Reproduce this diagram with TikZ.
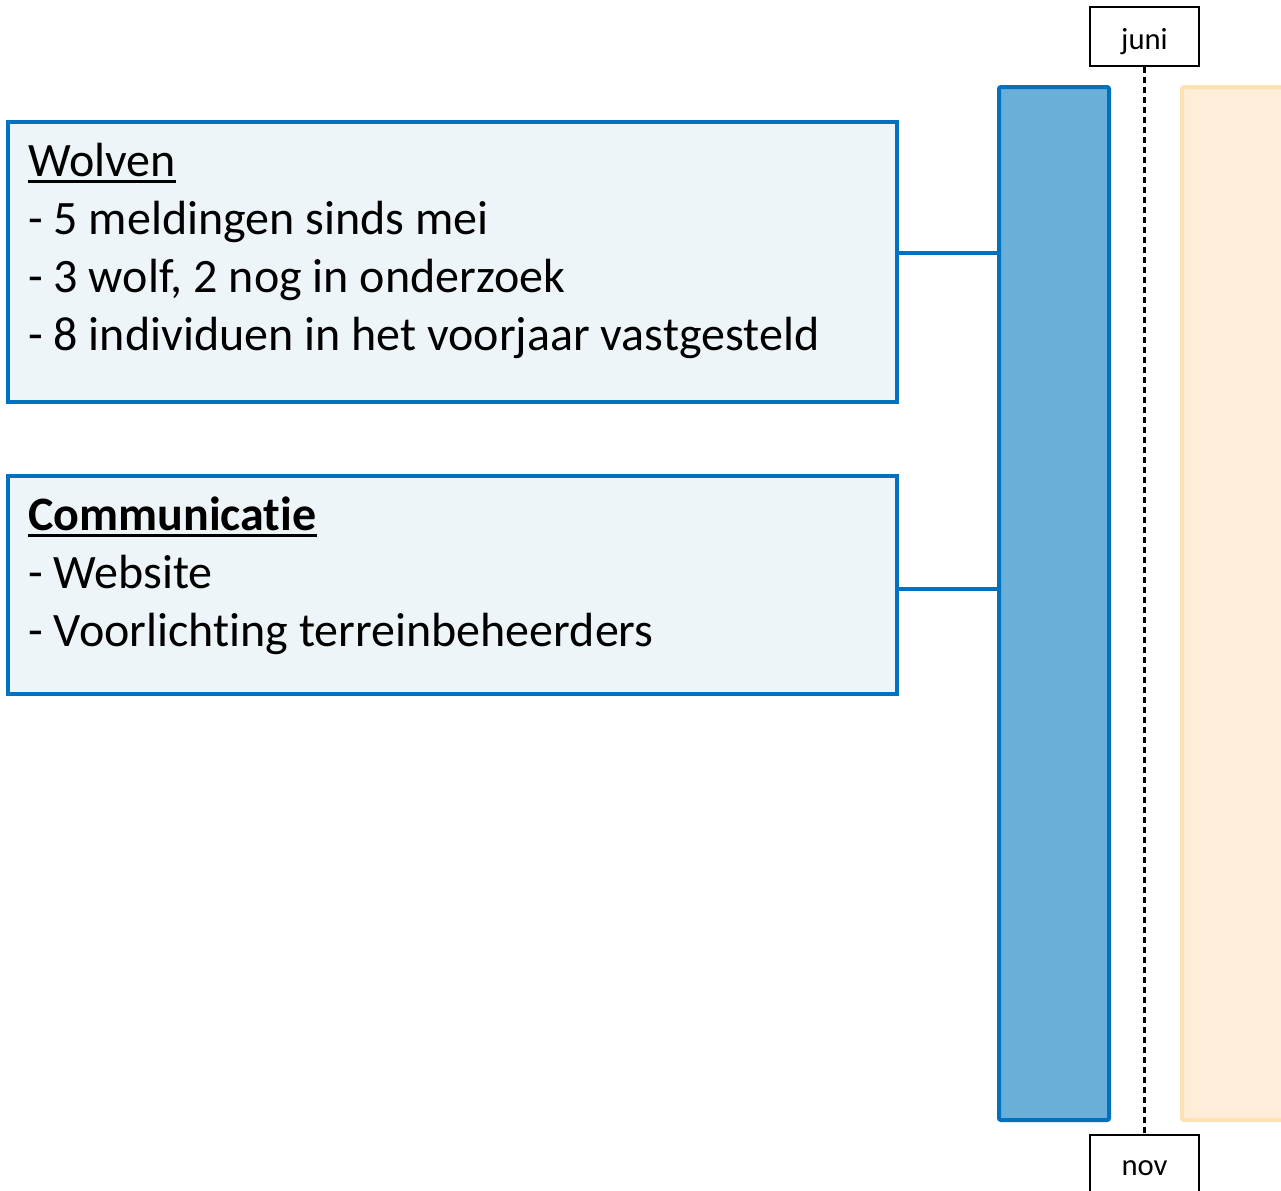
\documentclass[tikz,border=0pt]{standalone}
\usepackage{fontspec}
\setmainfont{Carlito}[Ligatures=NoCommon]
\newcommand{\ulword}[1]{\setbox0\hbox{#1}\rlap{\rule[-4.6pt]{\wd0}{2.4pt}}\box0}
\definecolor{boxblue}{HTML}{0070C0}
\definecolor{boxfill}{HTML}{EEF5F9}
\definecolor{barfill}{HTML}{6AAFD7}
\definecolor{orangefill}{HTML}{FEEDD8}
\definecolor{orangeline}{HTML}{FEE1B3}

\begin{document}
\begin{tikzpicture}[x=0.75pt, y=-0.75pt,
    infobox/.style={draw=boxblue, line width=2.3pt, fill=boxfill, minimum width=666.75pt, inner sep=0pt},
    infotext/.style={anchor=north west, align=left, inner sep=0pt, font=\fontsize{36}{43.5}\selectfont},
    monthbox/.style={draw, line width=1.8pt, fill=white, minimum width=81.75pt, minimum height=44.25pt, text depth=0pt, font=\fontsize{23}{26}\selectfont},
    phase/.style={line width=3pt, rounded corners=1.5pt, minimum width=82.5pt, minimum height=774.75pt, inner sep=0pt}]
    \useasboundingbox (0,0) rectangle (1281,1190);
    \clip (0,0) rectangle (1281,1190);

    \node[phase, draw=orangeline, fill=orangefill] (later) at (1237, 603.5) {};
    \node[phase, draw=boxblue, fill=barfill] (now) at (1054, 603.5) {};

    \node[monthbox, text height=20pt] (juni) at (1144.5, 36.5) {juni};
    \node[monthbox, text height=16pt] (nov) at (1144.5, 1164.5) {nov};
    \draw[line width=1.8pt, dash pattern=on 4.5pt off 3pt] (juni) -- (nov);

    \node[infobox, minimum height=210pt] (wolven) at (452.5, 262) {};
    \node[infotext] (wolventxt) at (28, 143) {\ulword{Wolven}\\- 5 meldingen sinds mei\\- 3 wolf, 2 nog in onderzoek\\- 8 individuen in het voorjaar vastgesteld};

    \node[infobox, minimum height=163.5pt] (comm) at (452.5, 585) {};
    \node[infotext] (commtxt) at (28, 497) {\ulword{\textbf{Communicatie}}\\- Website\\- Voorlichting terreinbeheerders};

    \draw[boxblue, line width=2.3pt] ([yshift=6.75pt]wolven.east) -- ([yshift=6.75pt]wolven.east -| now.west);
    \draw[boxblue, line width=2.3pt] ([yshift=-3pt]comm.east) -- ([yshift=-3pt]comm.east -| now.west);
\end{tikzpicture}
\end{document}
